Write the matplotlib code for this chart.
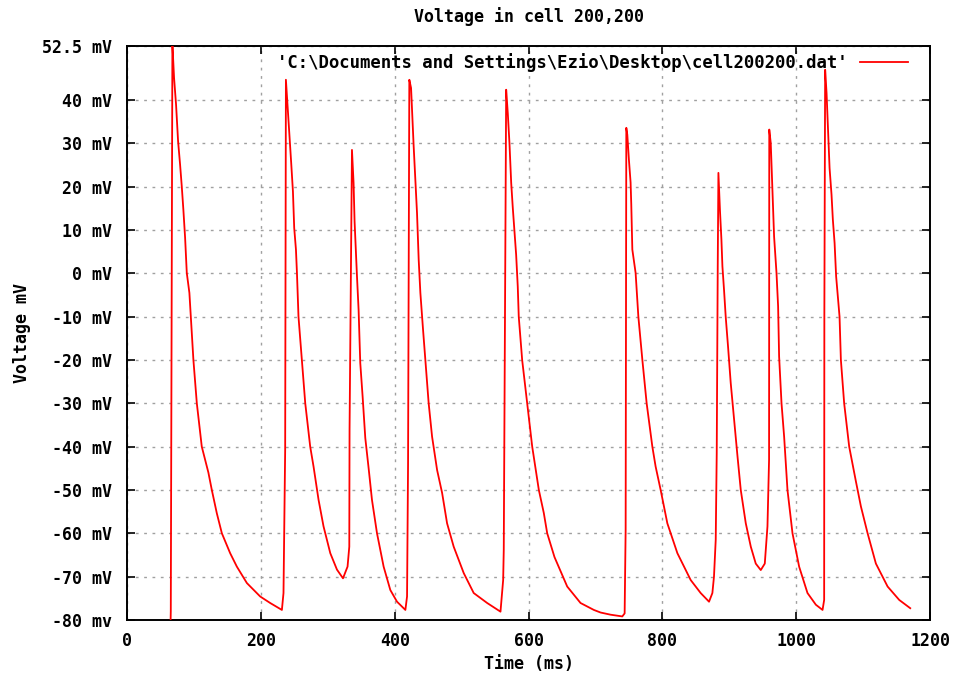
import matplotlib
matplotlib.use("Agg")
import matplotlib.pyplot as plt

# values (time in ms, voltage in mV)
time_ms = [0, 64.5, 65.4, 67.8, 70.3, 73.3, 76.3, 79.3, 81.8, 84.2, 86.8, 89.3, 93.2, 95.3, 99.2,
           104.3, 111.7, 121.6, 126.7, 134.2, 141.7, 154.1, 164.1, 179.1, 199, 213.9, 231.4, 233.8, 236.3,
           237.4, 239.8, 242.8, 245.3, 247.9, 249.8, 252.4, 253.9, 256.2, 261.3, 266.3, 273.7, 278.7,
           286.2, 293.6, 303.7, 313.7, 322.7, 329.5, 332.1, 332.5,
           336.1, 338.5, 340, 343.6, 346, 348.5, 352, 356, 361, 366, 373.5, 383.4, 393.4, 403.4, 415.9,
           418.4, 419.9,
           421.8, 424.4, 428.3, 433.3, 435.8, 438.3, 442.3, 445.8, 450.7, 455.8, 463.3, 470.8, 478.2,
           488.1, 503.1, 518, 538.1, 558, 562, 562.9,
           566.5, 568.9, 571.4, 574, 576.4, 578.9, 581.4, 583.8, 585.3, 590.4, 597.9, 605.4, 615.3,
           622.7, 627.8, 638.7, 657.7, 677.6, 697.5, 707.6, 722.5, 740, 743.5, 745,
           746, 747.5, 749.9, 752.4, 753.4, 755, 759.9, 764, 770, 776.4, 784.9, 789.8, 797.3, 807.3,
           822.3, 842.2, 857.1, 869.6, 874.6, 877, 879.6, 881.1, 882.6,
           883.6, 886, 888.1, 889.6, 892, 894.5, 898, 902, 907, 912.1, 917, 924.5, 932, 939.4, 946.9,
           952.9, 956.9, 959.3,
           959.6, 961.8, 964.4, 966.8, 970.4, 972.8, 974.3, 977.9, 981.8, 986.8, 994.3, 1004.2,
           1016.7, 1029.2, 1039.2, 1041.6, 1041.9,
           1043.1, 1045.2, 1047.1, 1049.7, 1052.6, 1054.6, 1057.2, 1059.5, 1062.1, 1064.6, 1066.6,
           1071.5, 1079, 1089, 1096.5, 1106.5, 1118.9, 1136.4, 1153.8, 1170.2]
voltage_mv = [-85, -85, -78, 53, 45.1, 38.9, 30.5, 25.1, 20.1, 14.7, 8.2, 0.1, -4.5, -9.9, -20,
              -30, -40, -46, -50, -55.4, -60, -64.6, -67.7, -71.5, -74.6, -76.1, -77.7, -73.8, -40.7,
              44.7, 38.9, 32, 25.5, 18.9, 10.5, 5.5, 0.1, -10, -20, -30, -40, -44.6,
              -52.3, -58.4, -64.6, -68.4, -70.4, -67.7, -63.1, -36.1,
              28.5, 20.9, 12, -0.7, -8.4, -20.7, -28.4, -38, -45, -52.3, -60, -67.7, -73.1, -75.8, -77.7,
              -74.6, -44.2,
              44.7, 42.8, 29.3, 13.9, 3.1, -4.5, -13, -20, -30, -37.7, -45.4, -50.7, -57.7,
              -63.1, -69.2, -73.8, -76.1, -78.1, -70.8, -63.8,
              42.4, 37, 30.1, 20.9, 15.1, 9.7, 4.3, -3, -10, -20, -30, -40, -50,
              -55.3, -60, -65.5, -72.3, -76.1, -77.7, -78.3, -78.8, -79.2, -78.5, -59.2,
              33.6, 32, 26.2, 21, 16, 5.5, 0.1, -10, -20, -30, -40, -44.6, -50, -57.7,
              -64.6, -70.8, -73.8, -75.8, -73.8, -70, -61.5, -41.5, 1.6,
              23.2, 14.3, 7.8, 1.6, -3.8, -10, -16.9, -25.3, -33.8, -42.2, -50, -57.7, -63.1, -67, -68.5,
              -67, -58.4, -43,
              33.2, 30.1, 18.9, 8.5, 0.1, -7.6, -19.2, -30, -37.7, -50, -60, -67.7,
              -73.8, -76.5, -77.7, -75.4, -9.2,
              47, 41.6, 34.3, 24.3, 18.2, 12.4, 7, -0.7, -5.3, -10, -20,
              -30, -40, -48, -53.8, -60, -67, -72.3, -75.4, -77.3]

x_ticks = [0, 200, 400, 600, 800, 1000, 1200]
y_ticks = [52.5, 40, 30, 20, 10, 0, -10, -20, -30, -40, -50, -60, -70, -80]
y_labels = ["52.5 mV", "40 mV", "30 mV", "20 mV", "10 mV", "0 mV", "-10 mV", "-20 mV",
            "-30 mV", "-40 mV", "-50 mV", "-60 mV", "-70 mV", "-80 mv"]
legend_label = "'C:\\Documents and Settings\\Ezio\\Desktop\\cell200200.dat'"

font = {"family": "DejaVu Sans Mono", "weight": "bold", "size": 12}
legend_font = {"family": "DejaVu Sans Mono", "weight": "bold", "size": 12.4}

fig = plt.figure(figsize=(9.55, 6.76), dpi=100)
ax = fig.add_axes([0.133, 0.083, 0.841, 0.849])

ax.plot(time_ms, voltage_mv, color="#ff0000", lw=1.3, label=legend_label, zorder=3)

ax.set_xlim(0, 1200)
ax.set_ylim(-80, 52.5)
ax.set_xticks(x_ticks)
ax.set_xticklabels([str(x) for x in x_ticks], fontdict=font)
ax.set_yticks(y_ticks)
ax.set_yticklabels(y_labels, fontdict=font)
ax.tick_params(direction="in", length=6, width=1.2, top=True, right=True)
ax.tick_params(axis="y", pad=11)
ax.tick_params(axis="x", pad=9)
ax.grid(True, color="#a0a0a0", linestyle=(0, (2, 4)), lw=1.0, zorder=0)
for s in ax.spines.values():
    s.set_linewidth(1.4)

ax.set_title("Voltage in cell 200,200", fontdict=font, pad=17)
ax.set_xlabel("Time (ms)", fontdict=font, labelpad=3)
ax.set_ylabel("Voltage mV", fontdict=font, labelpad=8)

ax.legend(loc="upper right", bbox_to_anchor=(0.981, 1.0), frameon=False, markerfirst=False,
          handlelength=2.8, handletextpad=0.7, borderaxespad=0, prop=legend_font)

fig.savefig("out.png", dpi=100)
